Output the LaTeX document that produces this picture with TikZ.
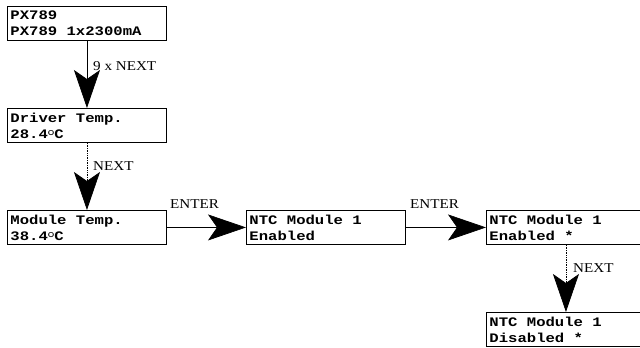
\documentclass[tikz,border=0pt]{standalone}
\usepackage{fontspec}
\setmainfont{Liberation Serif}
\setmonofont{Liberation Mono}
\usetikzlibrary{arrows.meta}
\newcommand\monoln[1]{\scalebox{1.2}[1]{#1}}
\newcommand\serln[1]{\scalebox{1.12}[1]{#1}}
\newcommand\msp{\hspace*{0.6em}}
\newcommand\degsym{\raisebox{0.4ex}{\sffamily\mdseries\fontsize{11}{11}\selectfont o}}
\begin{document}
\begin{tikzpicture}[x=1pt,y=-1pt,
  lcd/.style={draw, line width=0.9pt, minimum width=159pt, minimum height=34pt,
    inner xsep=3pt, inner ysep=0pt, text width=153pt, align=left, anchor=north west,
    font=\ttfamily\bfseries\fontsize{13}{16}\selectfont},
  conn/.style={line width=0.7pt, -{Stealth[length=38pt,width=26pt,inset=9pt]}},
  dconn/.style={conn, densely dotted},
  lbl/.style={anchor=base west, inner sep=0pt, font=\fontsize{13.5}{14}\selectfont}]
\useasboundingbox (0,0) rectangle (640,348);
\clip (0,0) rectangle (640,348);
\node[lcd] (b1) at (7,6) {\monoln{PX789}\\\monoln{PX789\msp1x2300mA}};
\node[lcd] (b2) at (7,108) {\monoln{Driver\msp Temp.}\\\monoln{28.4\degsym C}};
\node[lcd] (b3) at (7,210) {\monoln{Module\msp Temp.}\\\monoln{38.4\degsym C}};
\node[lcd] (b4) at (246,210) {\monoln{NTC\msp Module\msp1}\\\monoln{Enabled}};
\node[lcd] (b5) at (486,210) {\monoln{NTC\msp Module\msp1}\\\monoln{Enabled\msp*}};
\node[lcd] (b6) at (486,312) {\monoln{NTC\msp Module\msp1}\\\monoln{Disabled\msp*}};
\draw[conn] (b1) -- (b2);
\draw[dconn] (b2) -- (b3);
\draw[conn] (b3) -- (b4);
\draw[conn] (b4) -- (b5);
\draw[dconn] (b5) -- (b6);
\node[lbl] (l1) at (93,70) {\serln{9 x NEXT}};
\node[lbl] (l2) at (93,170) {\serln{NEXT}};
\node[lbl] (l3) at (170,208) {\serln{ENTER}};
\node[lbl] (l4) at (410,208) {\serln{ENTER}};
\node[lbl] (l5) at (573,272) {\serln{NEXT}};
\end{tikzpicture}
\end{document}
